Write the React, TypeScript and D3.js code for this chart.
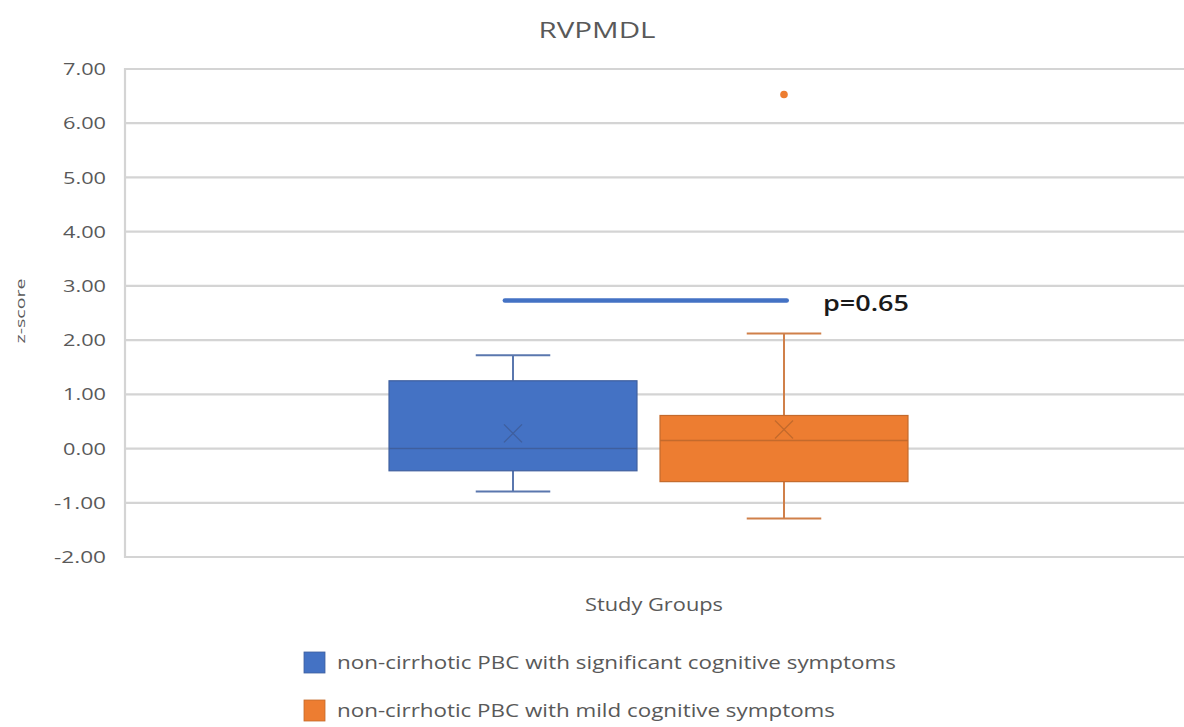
import React from "react";
import * as d3 from "d3";

// Box-plot statistics per study group (z-scores)
const groups = [
  "non-cirrhotic PBC with significant cognitive symptoms",
  "non-cirrhotic PBC with mild cognitive symptoms",
];
const whiskerLow = [-0.79, -1.29];
const q1 = [-0.41, -0.61];
const median = [0.0, 0.15];
const q3 = [1.25, 0.61];
const whiskerHigh = [1.72, 2.12];
const means = [0.28, 0.35];
const outliers: number[][] = [[], [6.53]];
const yTicks = [-2, -1, 0, 1, 2, 3, 4, 5, 6, 7];
const colors = ["#4472C4", "#ED7D31"];
const strokeColors = ["#3F5F9E", "#C46A2C"];
const whiskerColors = ["#5A77AE", "#D0804A"];

// Significance annotation
const pLabel = "p=0.65";
const pLineValue = 2.73;

const W = 1184;
const H = 727;
const FONT = "'Open Sans', 'Liberation Sans', sans-serif";
const legendLengths = [559, 498];

const fmt = (t: number) => d3.format(".2f")(t).replace("\u2212", "-");

export default function App() {
  const y = d3.scaleLinear().domain([-2, 7]).range([557, 69]);
  const xCat = d3.scaleBand().domain(["Study Groups"]).range([124, 1173]);
  const center = (xCat("Study Groups") ?? 0) + xCat.bandwidth() / 2;
  const x = d3
    .scaleBand()
    .domain(groups)
    .range([center - 271, center + 271])
    .paddingInner(0)
    .paddingOuter(0);
  const boxW = x.bandwidth() * 0.915;
  const capW = x.bandwidth() * 0.275;
  const cx = (g: string) => (x(g) ?? 0) + x.bandwidth() / 2;

  const lineX0 = cx(groups[0]) - x.bandwidth() * 0.03;
  const lineX1 = cx(groups[1]) + x.bandwidth() * 0.01;

  return (
    <svg
      width={W}
      height={H}
      style={{ position: "absolute", left: 0, top: 0, background: "#fff" }}
      fontFamily={FONT}
    >
      <rect x={0} y={0} width={W} height={H} fill="#fff" />
      {/* title */}
      <text
        x={597}
        y={38}
        textAnchor="middle"
        fontSize={22}
        fill="#595959"
        textLength={117}
        lengthAdjust="spacingAndGlyphs"
      >
        RVPMDL
      </text>

      {/* gridlines */}
      {yTicks.map((t) => (
        <line
          key={t}
          x1={124}
          x2={W}
          y1={y(t)}
          y2={y(t)}
          stroke="#d4d4d4"
          strokeWidth={2.2}
        />
      ))}
      <line x1={125} x2={125} y1={y(7) - 1} y2={y(-2) + 1} stroke="#d4d4d4" strokeWidth={2.2} />

      {/* y tick labels */}
      {yTicks.map((t) => (
        <text
          key={"l" + t}
          x={106}
          y={y(t)}
          dy="0.36em"
          textAnchor="end"
          fontSize={17}
          fill="#595959"
          textLength={t < 0 ? 52 : 43}
          lengthAdjust="spacingAndGlyphs"
        >
          {fmt(t)}
        </text>
      ))}

      {/* y axis title */}
      <text
        transform={`translate(25,311) rotate(-90)`}
        textAnchor="middle"
        fontSize={13}
        fill="#595959"
        textLength={65}
        lengthAdjust="spacingAndGlyphs"
      >
        z-score
      </text>

      {/* boxes */}
      {groups.map((g, i) => {
        const c = cx(g);
        return (
          <g key={g}>
            <line x1={c} x2={c} y1={y(whiskerHigh[i])} y2={y(q3[i])} stroke={whiskerColors[i]} strokeWidth={2} />
            <line x1={c} x2={c} y1={y(q1[i])} y2={y(whiskerLow[i])} stroke={whiskerColors[i]} strokeWidth={2} />
            <line x1={c - capW / 2} x2={c + capW / 2} y1={y(whiskerHigh[i])} y2={y(whiskerHigh[i])} stroke={whiskerColors[i]} strokeWidth={2} />
            <line x1={c - capW / 2} x2={c + capW / 2} y1={y(whiskerLow[i])} y2={y(whiskerLow[i])} stroke={whiskerColors[i]} strokeWidth={2} />
            <rect
              x={c - boxW / 2}
              y={y(q3[i])}
              width={boxW}
              height={y(q1[i]) - y(q3[i])}
              fill={colors[i]}
              stroke={strokeColors[i]}
              strokeWidth={1.2}
            />
            <line x1={c - boxW / 2} x2={c + boxW / 2} y1={y(median[i])} y2={y(median[i])} stroke={strokeColors[i]} strokeWidth={1.5} />
            {/* mean marker */}
            <path
              d={`M${c - 9},${y(means[i]) - 9}L${c + 9},${y(means[i]) + 9}M${c - 9},${y(means[i]) + 9}L${c + 9},${y(means[i]) - 9}`}
              stroke={strokeColors[i]}
              strokeWidth={1.4}
              fill="none"
            />
            {outliers[i].map((v, k) => (
              <circle key={k} cx={c} cy={y(v)} r={3.8} fill={colors[i]} />
            ))}
          </g>
        );
      })}

      {/* significance bar */}
      <line
        x1={lineX0}
        x2={lineX1}
        y1={y(pLineValue)}
        y2={y(pLineValue)}
        stroke="#4472C4"
        strokeWidth={4.5}
        strokeLinecap="round"
      />
      <text
        x={823}
        y={y(pLineValue) + 10}
        fontSize={22}
        fill="#1a1a1a"
        fontWeight={600}
        textLength={86}
        lengthAdjust="spacingAndGlyphs"
      >
        {pLabel}
      </text>

      {/* x axis title */}
      <text
        x={654}
        y={611}
        textAnchor="middle"
        fontSize={18}
        fill="#595959"
        textLength={138}
        lengthAdjust="spacingAndGlyphs"
      >
        Study Groups
      </text>

      {/* legend */}
      {groups.map((g, i) => (
        <g key={"lg" + i} transform={`translate(304,${652 + i * 48})`}>
          <rect x={0} y={0} width={21} height={21} fill={colors[i]} stroke={strokeColors[i]} strokeWidth={0.8} />
          <text
            x={33}
            y={10.5}
            dy="0.35em"
            fontSize={18}
            fill="#595959"
            textLength={legendLengths[i]}
            lengthAdjust="spacingAndGlyphs"
          >
            {g}
          </text>
        </g>
      ))}
    </svg>
  );
}
